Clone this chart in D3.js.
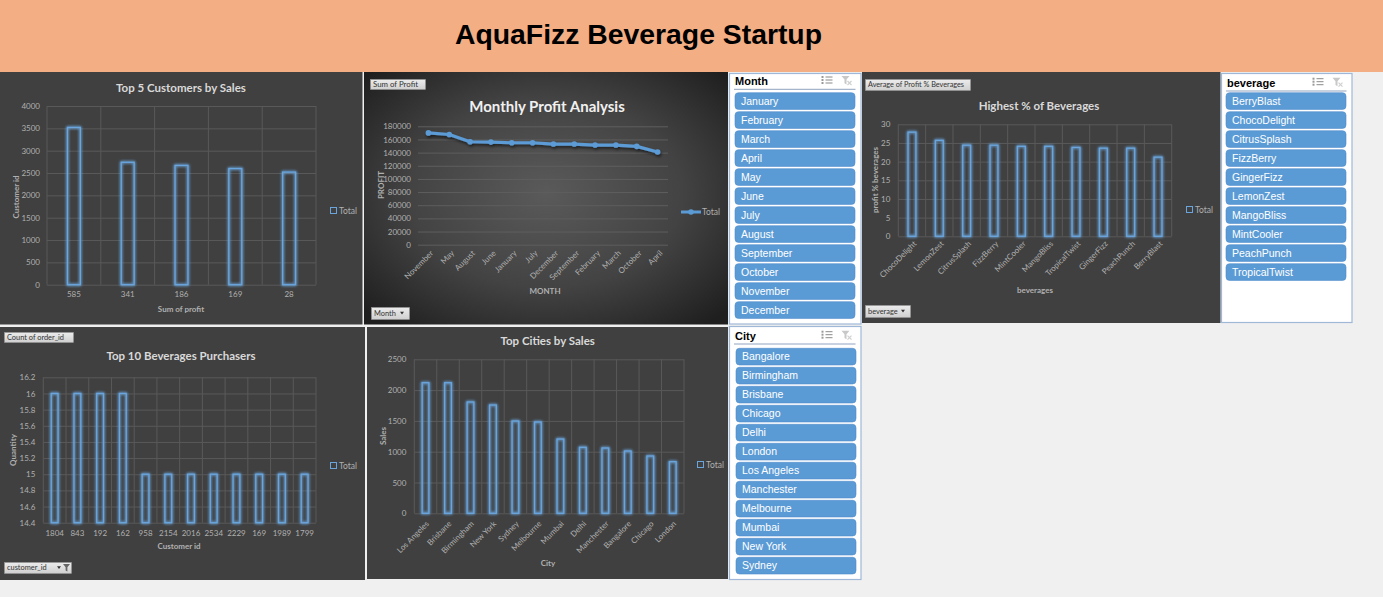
<!DOCTYPE html>
<html><head><meta charset="utf-8">
<script src="https://cdn.jsdelivr.net/npm/d3@7"></script>
<style>
html,body{margin:0;padding:0;background:#f0f0f0;overflow:hidden}
svg{display:block}
</style></head><body>
<script>
// ---------------- DATA ----------------
const dashboardTitle = "AquaFizz Beverage Startup";

const topCustomers = ["585","341","186","169","28"];
const topCustomerValues = [3520, 2740, 2670, 2600, 2520];
const customerTicks = [0,500,1000,1500,2000,2500,3000,3500,4000];

const months = ["November","May","August","June","January","July","December","September","February","March","October","April"];
const monthProfit = [170000,167500,156500,156000,155000,155000,153000,153000,151500,151500,149500,141000];
const profitTicks = [0,20000,40000,60000,80000,100000,120000,140000,160000,180000];

const beverages = ["ChocoDelight","LemonZest","CitrusSplash","FizzBerry","MintCooler","MangoBliss","TropicalTwist","GingerFizz","PeachPunch","BerryBlast"];
const beverageProfitPct = [27.9,25.7,24.4,24.4,24.1,24.1,23.8,23.6,23.6,21.2];
const pctTicks = [0,5,10,15,20,25,30];

const purchasers = ["1804","843","192","162","958","2154","2016","2534","2229","169","1989","1799"];
const purchaserQty = [16,16,16,16,15,15,15,15,15,15,15,15];
const qtyTicks = [14.4,14.6,14.8,15,15.2,15.4,15.6,15.8,16,16.2];

const cities = ["Los Angeles","Brisbane","Birmingham","New York","Sydney","Melbourne","Mumbai","Delhi","Manchester","Bangalore","Chicago","London"];
const citySales = [2120,2120,1807,1758,1498,1482,1206,1071,1060,1011,930,838];
const salesTicks = [0,500,1000,1500,2000,2500];

const monthSlicerItems = ["January","February","March","April","May","June","July","August","September","October","November","December"];
const beverageSlicerItems = ["BerryBlast","ChocoDelight","CitrusSplash","FizzBerry","GingerFizz","LemonZest","MangoBliss","MintCooler","PeachPunch","TropicalTwist"];
const citySlicerItems = ["Bangalore","Birmingham","Brisbane","Chicago","Delhi","London","Los Angeles","Manchester","Melbourne","Mumbai","New York","Sydney"];

// ---------------- STYLE ----------------
const W=1383,H=597;
const PANEL="#404040", GRID="#595959", TICK="#b0b0b0", TTL="#d9d9d9", BAR="#6aa5dd";
const FONT="Lato, 'Open Sans', sans-serif";
const SFONT="'Liberation Sans', Arial, sans-serif";

const svg=d3.select("body").append("svg").attr("width",W).attr("height",H);
const defs=svg.append("defs");
const glow=defs.append("filter").attr("id","glow").attr("x","-100%").attr("y","-20%").attr("width","300%").attr("height","140%");
glow.append("feGaussianBlur").attr("in","SourceGraphic").attr("stdDeviation",1.8).attr("result","b");
const gm=glow.append("feMerge");
gm.append("feMergeNode").attr("in","b");gm.append("feMergeNode").attr("in","b");gm.append("feMergeNode").attr("in","SourceGraphic");

const shadow=defs.append("filter").attr("id","shadow").attr("x","-10%").attr("y","-50%").attr("width","120%").attr("height","200%");
shadow.append("feGaussianBlur").attr("in","SourceAlpha").attr("stdDeviation",1.5).attr("result","s");
shadow.append("feOffset").attr("in","s").attr("dx",1).attr("dy",2).attr("result","o");
shadow.append("feComponentTransfer").attr("in","o").attr("result","o2").append("feFuncA").attr("type","linear").attr("slope",0.6);
const sm=shadow.append("feMerge");sm.append("feMergeNode").attr("in","o2");sm.append("feMergeNode").attr("in","SourceGraphic");

const rg=defs.append("radialGradient").attr("id","rg").attr("cx","50%").attr("cy","48%").attr("r","68%");
rg.append("stop").attr("offset","0%").attr("stop-color","#5a5a5a");
rg.append("stop").attr("offset","55%").attr("stop-color","#434343");
rg.append("stop").attr("offset","100%").attr("stop-color","#1f1f1f");

const bg=defs.append("linearGradient").attr("id","btn").attr("x1",0).attr("y1",0).attr("x2",0).attr("y2",1);
bg.append("stop").attr("offset","0%").attr("stop-color","#ececec");
bg.append("stop").attr("offset","100%").attr("stop-color","#cfcfcf");

// background & banner
svg.append("rect").attr("width",W).attr("height",H).attr("fill","#f0f0f0");
svg.append("rect").attr("width",W).attr("height",72).attr("fill","#f4ae84");
svg.append("text").attr("x",638.5).attr("y",44).attr("text-anchor","middle")
  .attr("font-family","'Liberation Sans', Arial, sans-serif").attr("font-weight","bold").attr("font-size",28)
  .attr("textLength",367).attr("lengthAdjust","spacingAndGlyphs").attr("fill","#000").text(dashboardTitle);

// ---------------- HELPERS ----------------
function txt(g,x,y,s,o={}){
  return g.append("text").attr("x",x).attr("y",y).text(s)
    .attr("font-family",o.font||FONT).attr("font-size",o.size||8)
    .attr("font-weight",o.bold?"bold":"normal").attr("fill",o.fill||TICK)
    .attr("text-anchor",o.anchor||"start");
}
function rotTitle(g,cx,cy,s){
  g.append("text").attr("transform",`translate(${cx},${cy}) rotate(-90)`).attr("text-anchor","middle")
   .attr("dy","0.35em").attr("font-family",FONT).attr("font-size",8).attr("font-weight","bold").attr("fill",TICK).text(s);
}
function legendBox(g,x,y){
  g.append("rect").attr("x",x+0.5).attr("y",y+0.5).attr("width",6).attr("height",6).attr("fill","none").attr("stroke",BAR).attr("stroke-width",1);
  txt(g,x+9,y+7,"Total",{size:8.5});
}
function button(g,x,y,w,h,label,o={}){
  g.append("rect").attr("x",x+0.5).attr("y",y+0.5).attr("width",w).attr("height",h).attr("fill","url(#btn)").attr("stroke","#9a9a9a").attr("stroke-width",0.5);
  const t=txt(g,x+3,y+h/2+2.6,label,{size:7.4,fill:"#333",font:FONT});
  if(o.fit) t.attr("textLength",o.fit).attr("lengthAdjust","spacingAndGlyphs");
  if(o.arrow){
    const ax=x+w-(o.funnel?14:9), ay=y+h/2-1.2;
    g.append("path").attr("d",`M${ax},${ay} l4,0 l-2,2.8 z`).attr("fill","#333");
  }
  if(o.funnel){
    const fx=x+w-8, fy=y+2;
    g.append("path").attr("d",`M${fx},${fy} l7,0 l-2.6,3.2 l0,4.2 l-1.8,-1 l0,-3.2 z`).attr("fill","#666");
  }
}

function barChart(o){
  const g=svg.append("g");
  g.append("rect").attr("x",o.panel[0]).attr("y",o.panel[1]).attr("width",o.panel[2]).attr("height",o.panel[3]).attr("fill",PANEL);
  const x=d3.scaleBand().domain(o.cats).range([o.l,o.r]);
  const y=d3.scaleLinear().domain(o.domain).range([o.b,o.t]);
  const yg=g.append("g").attr("transform",`translate(${o.l},0)`)
    .call(d3.axisLeft(y).tickValues(o.ticks).tickFormat(o.fmt).tickSize(-(o.r-o.l)).tickPadding(o.pad));
  yg.select(".domain").remove();
  yg.selectAll(".tick line").attr("stroke",GRID).attr("stroke-width",1);
  yg.selectAll(".tick text").attr("fill",TICK).attr("font-family",FONT).attr("font-size",8);
  const bounds=o.cats.map(c=>x(c)).concat([x.range()[1]]);
  g.selectAll(null).data(bounds).join("line").attr("x1",d=>d).attr("x2",d=>d).attr("y1",o.t).attr("y2",o.b)
    .attr("stroke",GRID).attr("stroke-width",1);
  const bw=x.step()*o.ratio;
  g.selectAll(null).data(o.vals).join("rect")
    .attr("x",(d,i)=>x(o.cats[i])+x.bandwidth()/2-bw/2).attr("y",d=>y(d))
    .attr("width",bw).attr("height",d=>y(o.domain[0])-y(d))
    .attr("fill","none").attr("stroke",BAR).attr("stroke-width",1.3).attr("filter","url(#glow)");
  const xg=g.append("g").attr("transform",`translate(0,${o.b})`)
    .call(d3.axisBottom(x).tickSize(0).tickPadding(o.xpad||7));
  xg.select(".domain").remove();
  const xt=xg.selectAll(".tick text").attr("fill",TICK).attr("font-family",FONT).attr("font-size",8);
  if(o.rotate){
    xt.attr("x",0).attr("y",0).attr("dy","0.35em").attr("text-anchor","end")
      .attr("transform",`translate(${o.rotate[0]},${o.rotate[1]}) rotate(-45)`);
  }
  txt(g,o.titleX,o.titleY,o.title,{size:o.titleSize||11.5,bold:true,fill:TTL,anchor:"middle"});
  txt(g,o.xTitle[0],o.xTitle[1],o.xTitle[2],{bold:true,anchor:"middle"});
  rotTitle(g,o.yTitle[0],o.yTitle[1],o.yTitle[2]);
  legendBox(g,o.legend[0],o.legend[1]);
  return g;
}

function slicer(o){
  const g=svg.append("g");
  g.append("rect").attr("x",o.x+0.5).attr("y",o.y+0.5).attr("width",o.w-1).attr("height",o.h-1).attr("fill","#fff").attr("stroke","#9fb8d8").attr("stroke-width",1.2);
  txt(g,o.x+6,o.headY+4,o.title,{font:SFONT,size:11,bold:true,fill:"#000"});
  const ix=o.x+o.w-40, iy=o.headY-4.5;
  [0,3,6].forEach(dy=>{
    g.append("line").attr("x1",ix+4).attr("x2",ix+11).attr("y1",iy+dy+0.5).attr("y2",iy+dy+0.5).attr("stroke","#8a8a8a").attr("stroke-width",1);
    g.append("rect").attr("x",ix).attr("y",iy+dy-0.5).attr("width",2).attr("height",2).attr("fill","#9a9a9a");
  });
  const fx=o.x+o.w-20, fy=o.headY-5;
  g.append("path").attr("d",`M${fx},${fy} l8,0 l-3,3.5 l0,5 l-2,-1.2 l0,-3.8 z`).attr("fill","#c8c8c8");
  g.append("path").attr("d",`M${fx+6},${fy+5} l4,4 M${fx+10},${fy+5} l-4,4`).attr("stroke","#d0d0d0").attr("stroke-width",1.2);
  g.append("line").attr("x1",o.x+5).attr("x2",o.x+o.w-6).attr("y1",o.lineY).attr("y2",o.lineY).attr("stroke","#8fa3bf").attr("stroke-width",1);
  const n=o.items.length;
  const yb=d3.scaleBand().domain(o.items).range([o.itemTop,o.itemTop+19*n-2.3]).paddingInner(0.121).paddingOuter(0);
  const it=g.selectAll(null).data(o.items).join("g").attr("transform",d=>`translate(${o.itemX},${yb(d)})`);
  it.append("rect").attr("width",120).attr("height",yb.bandwidth()).attr("rx",3.5).attr("fill","#5b9bd5").attr("stroke","#4f8ccb").attr("stroke-width",0.6);
  it.append("text").attr("x",6).attr("y",yb.bandwidth()/2+3.8).text(d=>d).attr("font-family",SFONT).attr("font-size",10.5).attr("fill","#fff");
}

// ---------------- CHART 1: Top 5 Customers ----------------
barChart({panel:[0,72,362.5,252.5],cats:topCustomers,vals:topCustomerValues,domain:[0,4000],ticks:customerTicks,fmt:d3.format("d"),
  l:47,r:316,t:106,b:284.7,pad:7,ratio:0.24,
  title:"Top 5 Customers by Sales",titleX:181,titleY:92,
  xTitle:[181,312,"Sum of profit"],yTitle:[16,197,"Customer id"],legend:[330,207]});

// ---------------- CHART 2: Monthly Profit ----------------
(function(){
  const g=svg.append("g");
  g.append("rect").attr("x",364).attr("y",72).attr("width",364).attr("height",252.5).attr("fill","url(#rg)");
  const l=418,r=668,t=126.3,b=244.7;
  const x=d3.scalePoint().domain(months).range([l,r]).padding(0.5);
  const y=d3.scaleLinear().domain([0,180000]).range([b,t]);
  const yg=g.append("g").attr("transform",`translate(${l},0)`)
    .call(d3.axisLeft(y).tickValues(profitTicks).tickFormat(d3.format("d")).tickSize(-(r-l)).tickPadding(7));
  yg.select(".domain").remove();
  yg.selectAll(".tick line").attr("stroke","#5e5e5e");
  yg.selectAll(".tick text").attr("fill",TICK).attr("font-family",FONT).attr("font-size",8);
  const line=d3.line().x((d,i)=>x(months[i])).y(d=>y(d));
  const lg=g.append("g").attr("filter","url(#shadow)");
  lg.append("path").datum(monthProfit).attr("d",line).attr("fill","none").attr("stroke","#5b9bd5").attr("stroke-width",3.2).attr("stroke-linejoin","round");
  lg.selectAll(null).data(monthProfit).join("circle").attr("cx",(d,i)=>x(months[i])).attr("cy",d=>y(d)).attr("r",2.8).attr("fill","#5b9bd5");
  const xg=g.append("g").attr("transform",`translate(0,${b})`).call(d3.axisBottom(x).tickSize(0));
  xg.select(".domain").remove();
  xg.selectAll(".tick text").attr("fill",TICK).attr("font-family",FONT).attr("font-size",8)
    .attr("x",0).attr("y",0).attr("dy","0.35em").attr("text-anchor","end")
    .attr("transform","translate(3,7) rotate(-45)");
  txt(g,547,112,"Monthly Profit Analysis",{size:15,bold:true,fill:"#f0f0f0",anchor:"middle"});
  txt(g,545,294,"MONTH",{bold:true,anchor:"middle"});
  rotTitle(g,381,185,"PROFIT");
  g.append("line").attr("x1",681).attr("x2",701).attr("y1",212).attr("y2",212).attr("stroke","#5b9bd5").attr("stroke-width",3);
  g.append("circle").attr("cx",691).attr("cy",212).attr("r",2.8).attr("fill","#5b9bd5");
  txt(g,702,215,"Total",{size:8.5});
  button(g,370,79,55,10,"Sum of Profit",{fit:45});
  button(g,371,307,38,12,"Month",{arrow:true});
})();

// ---------------- CHART 4: Highest % of Beverages ----------------
(function(){
  const g=barChart({panel:[862,72,358.5,251],cats:beverages,vals:beverageProfitPct,domain:[0,30],ticks:pctTicks,fmt:d3.format("d"),
    l:898.3,r:1171.7,t:124.3,b:236.3,pad:8,ratio:0.29,rotate:[3,6],
    title:"Highest % of Beverages",titleX:1039,titleY:109.5,
    xTitle:[1035,293,"beverages"],yTitle:[875,180,"profit % beverages"],legend:[1186,206]});
  button(g,865,79,105,11,"Average of Profit % Beverages",{fit:96});
  button(g,865,305,45,12,"beverage",{arrow:true});
})();

// ---------------- CHART 5: Top 10 Beverages Purchasers ----------------
(function(){
  const g=barChart({panel:[0,327,365,253],cats:purchasers,vals:purchaserQty,domain:[14.4,16.2],ticks:qtyTicks,fmt:d=>String(+d.toFixed(1)),
    l:43.3,r:316,t:377.3,b:522.7,pad:8,ratio:0.3,xpad:8,
    title:"Top 10 Beverages Purchasers",titleX:181,titleY:360,
    xTitle:[179,549,"Customer id"],yTitle:[13,450,"Quantity"],legend:[330,462]});
  button(g,4,332,69,10,"Count of order_id",{fit:57});
  button(g,4,562,67,11,"customer_id",{arrow:true,funnel:true});
})();

// ---------------- CHART 6: Top Cities by Sales ----------------
barChart({panel:[367,327,361,252],cats:cities,vals:citySales,domain:[0,2500],ticks:salesTicks,fmt:d3.format("d"),
  l:414.3,r:684,t:359.3,b:513.3,pad:8,ratio:0.3,rotate:[2,9],
  title:"Top Cities by Sales",titleX:547.7,titleY:345,
  xTitle:[548,566,"City"],yTitle:[383,436,"Sales"],legend:[697,461]});

// ---------------- SLICERS ----------------
slicer({x:729,y:73,w:132.5,h:251.5,title:"Month",items:monthSlicerItems,headY:81,lineY:89.3,itemTop:92.7,itemX:735});
slicer({x:1221,y:73,w:131.5,h:250,title:"beverage",items:beverageSlicerItems,headY:82.7,lineY:91,itemTop:92.7,itemX:1226});
slicer({x:729,y:326,w:132.5,h:254,title:"City",items:citySlicerItems,headY:335.7,lineY:344,itemTop:348.3,itemX:736});
</script>
</body></html>
